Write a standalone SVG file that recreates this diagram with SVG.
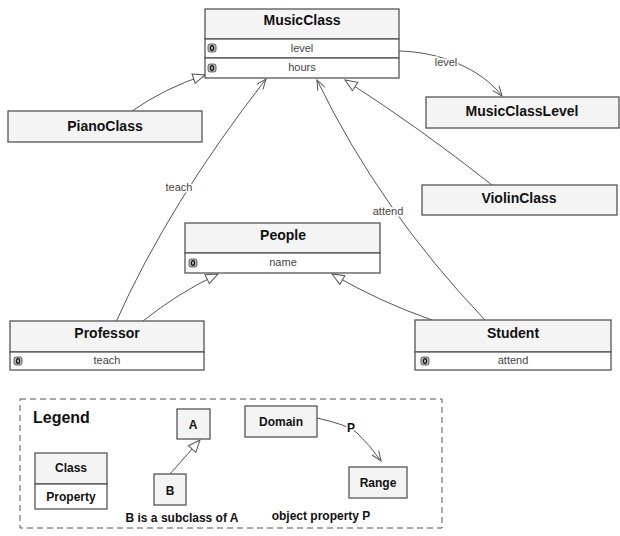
<svg xmlns="http://www.w3.org/2000/svg" width="620" height="536" viewBox="0 0 620 536">
<defs>
<style>
.box{fill:#f4f4f4;stroke:#555;stroke-width:1.3}
.row{fill:#fff;stroke:#555;stroke-width:1.3}
.title{font-family:"Liberation Sans",Arial,sans-serif;font-weight:bold;font-size:14px;fill:#111;text-anchor:middle}
.attr{font-family:"Liberation Sans",Arial,sans-serif;font-size:11px;fill:#444;text-anchor:middle}
.lbl{font-family:"Liberation Sans",Arial,sans-serif;font-size:11px;fill:#444;text-anchor:middle;stroke:#fff;stroke-width:3;paint-order:stroke}
.lg{font-family:"Liberation Sans",Arial,sans-serif;font-weight:bold;font-size:12px;fill:#111;text-anchor:middle}
.edge{fill:none;stroke:#555;stroke-width:1}
.ico{fill:#bbb;stroke:#444;stroke-width:0.8}
.icoi{fill:none;stroke:#111;stroke-width:1.2}
</style>
<marker id="tri" viewBox="0 0 14 12" refX="13" refY="6" markerWidth="14" markerHeight="12" orient="auto" markerUnits="userSpaceOnUse"><path d="M1,1 L13,6 L1,11 Z" fill="#fff" stroke="#555" stroke-width="1"/></marker>
<marker id="open" viewBox="0 0 12 10" refX="11" refY="5" markerWidth="12" markerHeight="10" orient="auto" markerUnits="userSpaceOnUse"><path d="M1,1 L11,5 L1,9" fill="none" stroke="#555" stroke-width="1"/></marker>
<g id="icon"><rect x="0" y="0" width="8" height="8" rx="2" class="ico"/><ellipse cx="4" cy="4" rx="1.6" ry="2.3" class="icoi"/></g>
</defs>
<rect width="620" height="536" fill="#fff"/>

<g id="connectors">
<path class="edge" d="M132,111 Q165,88 205,75" marker-end="url(#tri)"/>
<path class="edge" d="M116,322 Q168,205 266,79" marker-end="url(#open)"/>
<path class="edge" d="M485,320 Q380,210 317,80" marker-end="url(#open)"/>
<path class="edge" d="M492,185 Q420,128 345,80" marker-end="url(#tri)"/>
<path class="edge" d="M399,51 C440,52 480,68 502,96" marker-end="url(#open)"/>
<path class="edge" d="M143,321 Q178,293 218,274" marker-end="url(#tri)"/>
<path class="edge" d="M432,320 Q380,302 332,274" marker-end="url(#tri)"/>
<text class="lbl" x="179" y="191">teach</text>
<text class="lbl" x="388" y="215">attend</text>
<text class="lbl" x="446" y="66">level</text>
</g>

<g id="MusicClass">
<rect class="box" x="205" y="9" width="194" height="30"/>
<rect class="row" x="205" y="39" width="194" height="19"/>
<rect class="row" x="205" y="58" width="194" height="20"/>
<text class="title" x="302" y="25">MusicClass</text>
<use href="#icon" x="208" y="44"/>
<text class="attr" x="302" y="52">level</text>
<use href="#icon" x="208" y="64"/>
<text class="attr" x="302" y="71">hours</text>
</g>

<g id="PianoClass">
<rect class="box" x="8" y="111" width="194" height="31"/>
<text class="title" x="105" y="131">PianoClass</text>
</g>

<g id="MusicClassLevel">
<rect class="box" x="426" y="97" width="193" height="31"/>
<text class="title" x="522" y="116">MusicClassLevel</text>
</g>

<g id="ViolinClass">
<rect class="box" x="422" y="185" width="195" height="30"/>
<text class="title" x="519" y="203">ViolinClass</text>
</g>

<g id="People">
<rect class="box" x="185" y="223" width="195" height="30"/>
<rect class="row" x="185" y="253" width="195" height="20"/>
<text class="title" x="283" y="240">People</text>
<use href="#icon" x="189" y="259"/>
<text class="attr" x="283" y="266">name</text>
</g>

<g id="Professor">
<rect class="box" x="10" y="321" width="194" height="31"/>
<rect class="row" x="10" y="352" width="194" height="18"/>
<text class="title" x="107" y="338">Professor</text>
<use href="#icon" x="14" y="357"/>
<text class="attr" x="107" y="364">teach</text>
</g>

<g id="Student">
<rect class="box" x="415" y="320" width="196" height="32"/>
<rect class="row" x="415" y="352" width="196" height="18"/>
<text class="title" x="513" y="338">Student</text>
<use href="#icon" x="421" y="357"/>
<text class="attr" x="513" y="364">attend</text>
</g>

<g id="legend">
<rect x="20" y="399" width="422" height="129" fill="none" stroke="#555" stroke-width="1" stroke-dasharray="6,4"/>
<text x="33" y="423" font-family="Liberation Sans,Arial,sans-serif" font-weight="bold" font-size="16" fill="#111">Legend</text>
<g id="legend-class">
<rect class="box" x="35" y="453" width="72" height="31"/>
<rect class="row" x="35" y="484" width="72" height="25"/>
<text class="lg" x="71" y="472" font-size="13">Class</text>
<text class="lg" x="71" y="501" font-size="10">Property</text>
</g>
<g id="legend-A">
<rect class="box" x="177" y="409" width="33" height="30"/>
<text class="lg" x="193" y="429" font-size="14">A</text>
</g>
<g id="legend-B">
<rect class="box" x="154" y="474" width="32" height="31"/>
<text class="lg" x="170" y="495" font-size="14">B</text>
</g>
<path class="edge" d="M170,474 L200,440" marker-end="url(#tri)"/>
<text class="lg" x="182" y="522">B is a subclass of A</text>
<g id="legend-Domain">
<rect class="box" x="245" y="406" width="72" height="31"/>
<text class="lg" x="281" y="426" font-size="13">Domain</text>
</g>
<g id="legend-Range">
<rect class="box" x="349" y="467" width="58" height="31"/>
<text class="lg" x="378" y="487" font-size="13">Range</text>
</g>
<path class="edge" d="M317,418 Q348,425 356,432 Q370,445 381,461" marker-end="url(#open)"/>
<text class="lg" x="351" y="432" style="stroke:#fff;stroke-width:3;paint-order:stroke">P</text>
<text class="lg" x="321" y="520">object property P</text>
</g>
</svg>
